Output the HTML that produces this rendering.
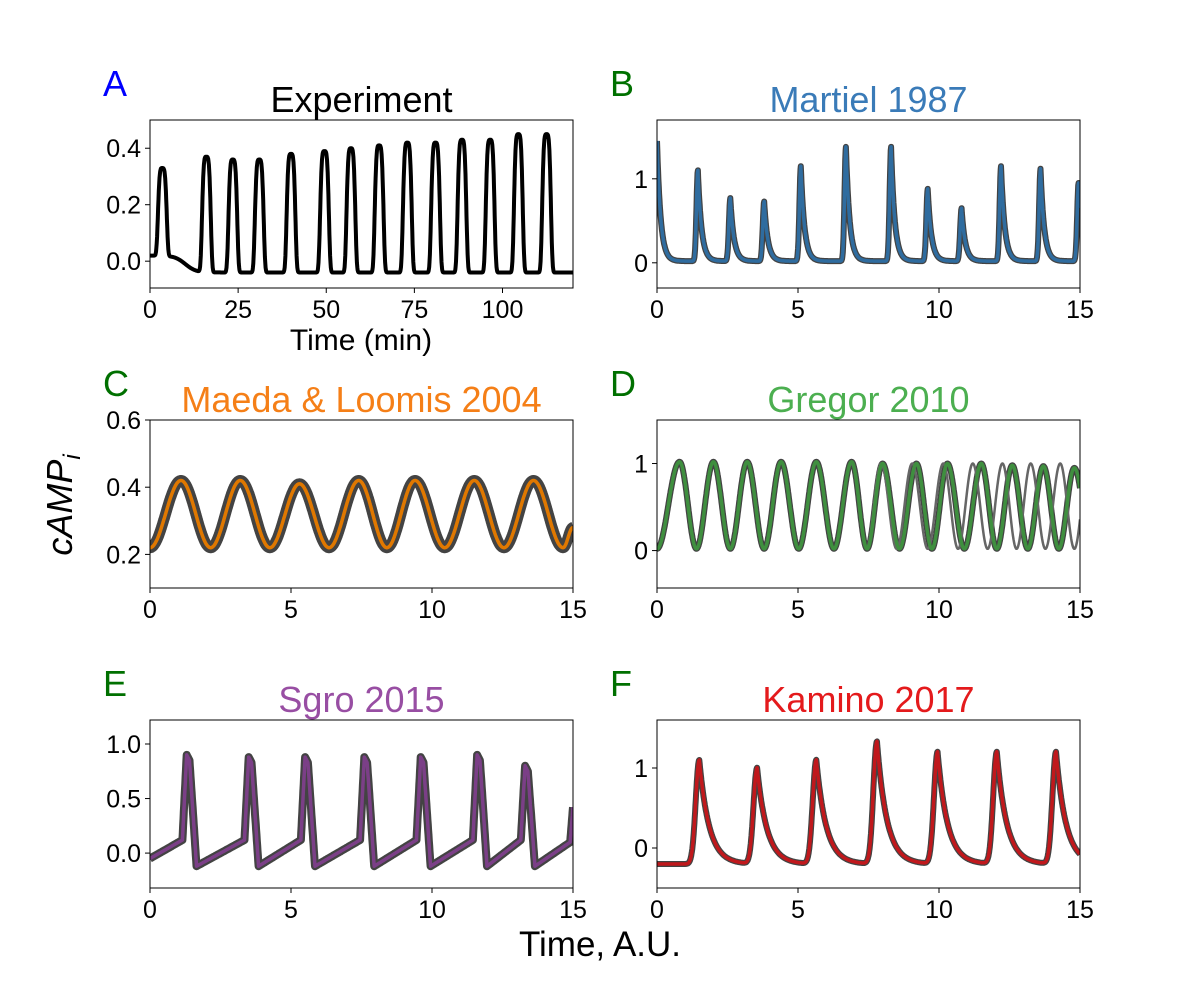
<!DOCTYPE html>
<html><head><meta charset="utf-8">
<style>
html,body{margin:0;padding:0;background:#fff;}
svg{display:block;font-family:"Liberation Sans",sans-serif;}
</style></head>
<body>
<svg id="fig" width="1200" height="997" viewBox="0 0 1200 997" xmlns="http://www.w3.org/2000/svg"></svg>
<script>
// ---- data ----
const aPeakTimes=[3.5,16,23.5,31,40,49.5,57,65,73,81,88.5,96.5,104.5,112.5];
const aPeakValues=[0.33,0.37,0.36,0.36,0.38,0.39,0.40,0.41,0.42,0.42,0.43,0.43,0.45,0.45];
const aBaseline=-0.04;
const bPeakTimes=[0,1.45,2.6,3.8,5.1,6.7,8.3,9.6,10.8,12.2,13.6,14.95];
const bPeakValues=[1.45,1.1,0.77,0.73,1.15,1.38,1.38,0.88,0.65,1.15,1.12,0.95];
const bBaseline=0.02;
const cExtremaTimes=[0,1.1,2.15,3.2,4.25,5.3,6.35,7.4,8.4,9.4,10.45,11.5,12.55,13.6,14.65,15];
const cExtremaValues=[0.22,0.42,0.22,0.42,0.22,0.41,0.22,0.42,0.22,0.42,0.22,0.42,0.22,0.42,0.22,0.28];
const dPeakTimes=[0.8,2.0,3.2,4.4,5.65,6.9,8.0,9.2,10.3,11.5,12.6,13.7,14.8];
const dPeakValues=[1.02,1.02,1.02,1.02,1.02,1.02,1.0,1.0,1.0,1.0,0.98,0.97,0.95];
const dGreyPeakTimes=[0.8,2.0,3.2,4.4,5.65,6.9,7.95,9.05,10.15,11.2,12.25,13.25,14.3,15.3];
const ePeakTimes=[1.3,3.5,5.5,7.6,9.6,11.6,13.3];
const ePeakValues=[0.9,0.88,0.88,0.88,0.88,0.9,0.8];
const fPeakTimes=[1.5,3.55,5.65,7.8,9.95,12.05,14.15];
const fPeakValues=[1.1,1.0,1.1,1.33,1.2,1.2,1.2];
const fBaseline=-0.2;

const NS="http://www.w3.org/2000/svg";
const svg=document.getElementById('fig');
function mk(tag,attrs,parent){const e=document.createElementNS(NS,tag);for(const k in attrs)e.setAttribute(k,attrs[k]);(parent||svg).appendChild(e);return e;}
function txt(s,attrs,parent){const e=mk('text',attrs,parent);e.textContent=s;return e;}

const panels=[
 {id:'a',x0:150,x1:573,y0:120,y1:288,xmin:0,xmax:120,ymin:-0.095,ymax:0.5,yt:[0,0.2,0.4],ytl:['0.0','0.2','0.4'],xt:[0,25,50,75,100],title:'Experiment',tc:'#000',letter:'A',lc:'#0000ff',color:'#000'},
 {id:'b',x0:657,x1:1080,y0:120,y1:288,xmin:0,xmax:15,ymin:-0.3,ymax:1.7,yt:[0,1],ytl:['0','1'],xt:[0,5,10,15],title:'Martiel 1987',tc:'#3a7bb8',letter:'B',lc:'#007000',color:'#2f6c9f'},
 {id:'c',x0:150,x1:573,y0:420,y1:588,xmin:0,xmax:15,ymin:0.1,ymax:0.6,yt:[0.2,0.4,0.6],ytl:['0.2','0.4','0.6'],xt:[0,5,10,15],title:'Maeda & Loomis 2004',tc:'#f57f17',letter:'C',lc:'#007000',color:'#e07800'},
 {id:'d',x0:657,x1:1080,y0:420,y1:588,xmin:0,xmax:15,ymin:-0.43,ymax:1.5,yt:[0,1],ytl:['0','1'],xt:[0,5,10,15],title:'Gregor 2010',tc:'#4caf50',letter:'D',lc:'#007000',color:'#3f8f3f'},
 {id:'e',x0:150,x1:573,y0:720,y1:888,xmin:0,xmax:15,ymin:-0.32,ymax:1.22,yt:[0,0.5,1],ytl:['0.0','0.5','1.0'],xt:[0,5,10,15],title:'Sgro 2015',tc:'#984ea3',letter:'E',lc:'#007000',color:'#7b3f87'},
 {id:'f',x0:657,x1:1080,y0:720,y1:888,xmin:0,xmax:15,ymin:-0.5,ymax:1.6,yt:[0,1],ytl:['0','1'],xt:[0,5,10,15],title:'Kamino 2017',tc:'#e41a1c',letter:'F',lc:'#007000',color:'#c0181c'}
];

function aOffset(t){return 0.06/(1+Math.exp((t-10)/1.5));}
function seriesA(t){let v=aBaseline+aOffset(t);for(let i=0;i<aPeakTimes.length;i++){const u=(t-aPeakTimes[i])/1.35;v+=(aPeakValues[i]-aBaseline-aOffset(aPeakTimes[i]))*Math.exp(-u*u*u*u);}return v;}
function spike(t,times,vals,base,rw,dw){let v=base;for(let i=0;i<times.length;i++){const d=t-times[i];let s;if(d<0)s=Math.exp(-(d/rw)*(d/rw));else s=Math.exp(-d/dw);v+=(vals[i]-base)*s;}return v;}
function cosInterp(t,ts,vs){for(let i=0;i<ts.length-1;i++){if(t>=ts[i]&&t<=ts[i+1]){const f=(t-ts[i])/(ts[i+1]-ts[i]);return vs[i]+(vs[i+1]-vs[i])*(1-Math.cos(Math.PI*f))/2;}}return vs[vs.length-1];}
function dExtrema(peaks,vals){const ts=[0],vs=[0.02];for(let i=0;i<peaks.length;i++){if(i>0){ts.push((peaks[i-1]+peaks[i])/2);vs.push(0.02);}ts.push(peaks[i]);vs.push(vals[i]);}ts.push(peaks[peaks.length-1]+0.6);vs.push(0.02);return [ts,vs];}
function ePoints(){const ts=[0],vs=[-0.05];for(let i=0;i<ePeakTimes.length;i++){const p=ePeakTimes[i];ts.push(p-0.15,p,p+0.1,p+0.35);vs.push(0.12,ePeakValues[i],ePeakValues[i]-0.05,-0.12);}ts.push(14.9,15);vs.push(0.1,0.42);return [ts,vs];}
function linInterp(t,ts,vs){for(let i=0;i<ts.length-1;i++){if(t>=ts[i]&&t<=ts[i+1]){const f=(t-ts[i])/(ts[i+1]-ts[i]);return vs[i]+(vs[i+1]-vs[i])*f;}}return vs[vs.length-1];}

const dE=dExtrema(dPeakTimes,dPeakValues);
const dG=dExtrema(dGreyPeakTimes,dGreyPeakTimes.map(()=>1.0));
const eP=ePoints();
const funcs={
 a:t=>seriesA(t),
 b:t=>spike(t,bPeakTimes,bPeakValues,bBaseline,0.07,0.13),
 c:t=>cosInterp(t,cExtremaTimes,cExtremaValues),
 d:t=>cosInterp(t,dE[0],dE[1]),
 e:t=>linInterp(t,eP[0],eP[1]),
 f:t=>spike(t,fPeakTimes,fPeakValues,fBaseline,0.18,0.35)
};

panels.forEach(p=>{
 const g=mk('g',{});
 
 
 const sx=v=>p.x0+(v-p.xmin)/(p.xmax-p.xmin)*(p.x1-p.x0);
 const sy=v=>p.y1-(v-p.ymin)/(p.ymax-p.ymin)*(p.y1-p.y0);
 const cid='clip-'+p.id;
 const cp=mk('clipPath',{id:cid},g);mk('rect',{x:p.x0,y:p.y0,width:p.x1-p.x0,height:p.y1-p.y0},cp);
 const f=funcs[p.id];
 function path(fn,xmin,xmax){let d='';const n=1200;for(let i=0;i<=n;i++){const t=xmin+(xmax-xmin)*i/n;d+=(i?'L':'M')+sx(t).toFixed(1)+','+sy(fn(t)).toFixed(1);}return d;}
 const lg=mk('g',{'clip-path':'url(#'+cid+')'},g);
 if(p.id!=='a'){
  const sh=mk('path',{d:path(f,p.xmin,p.xmax),fill:'none',stroke:'#222',"stroke-width":p.id==='c'?11:(p.id==='e'?8:6),"stroke-opacity":0.85,"stroke-linejoin":'round'},lg);
  
 }
 if(p.id==='d'){
  const gr=mk('path',{d:path(t=>cosInterp(t,dG[0],dG[1]),6.5,15),fill:'none',stroke:'#666',"stroke-width":2.5},lg);
  
 }
 const ln=mk('path',{d:path(f,p.xmin,p.xmax),fill:'none',stroke:p.color,"stroke-width":p.id==='a'?4:3.5,"stroke-linejoin":'round'},lg);
 
 const fr=mk('rect',{x:p.x0,y:p.y0,width:p.x1-p.x0,height:p.y1-p.y0,fill:'none',stroke:'#000','stroke-width':1},g);
 
 p.yt.forEach((v,i)=>{const y=sy(v);mk('line',{x1:p.x0-5,x2:p.x0,y1:y,y2:y,stroke:'#000'},g);
  const t=txt(p.ytl[i],{x:p.x0-9,y:y+9,'font-size':25,'text-anchor':'end'},g);});
 p.xt.forEach(v=>{const x=sx(v);mk('line',{x1:x,x2:x,y1:p.y1,y2:p.y1+5,stroke:'#000'},g);
  const t=txt(String(v),{x:x,y:p.y1+30,'font-size':25,'text-anchor':'middle'},g);});
 const tt=txt(p.title,{x:(p.x0+p.x1)/2,y:p.y0-8,'font-size':36,'text-anchor':'middle',fill:p.tc},g);
 
 const lt=txt(p.letter,{x:p.x0-47,y:p.y0-24,'font-size':36,fill:p.lc},g);
 
});
const xa=txt('Time (min)',{x:361,y:350,'font-size':30,'text-anchor':'middle'});

const xb=txt('Time, A.U.',{x:600,y:956,'font-size':35,'text-anchor':'middle'});

const yl=mk('text',{transform:'translate(72,505) rotate(-90)','font-size':36,'font-style':'italic','text-anchor':'middle'});
yl.innerHTML='cAMP<tspan font-size="24" dy="8">i</tspan>';

</script>
</body></html>
